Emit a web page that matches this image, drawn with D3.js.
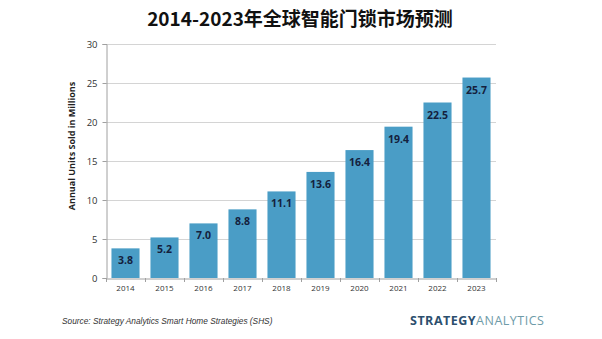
<!DOCTYPE html>
<html><head><meta charset="utf-8">
<script src="https://cdn.jsdelivr.net/npm/d3@7"></script>
<style>body{margin:0;background:#fff}svg{display:block}</style>
</head><body>
<svg id="c" width="602" height="339"></svg>
<script>
const years = ["2014","2015","2016","2017","2018","2019","2020","2021","2022","2023"];
const units = [3.8,5.2,7.0,8.8,11.1,13.6,16.4,19.4,22.5,25.7];
const yTicks = [0,5,10,15,20,25,30];
const titleText = "2014-2023年全球智能门锁市场预测";
const yTitle = "Annual Units Sold in Millions";
const sourceText = "Source: Strategy Analytics Smart Home Strategies (SHS)";

const svg = d3.select("#c");
const x = d3.scaleBand().domain(years).range([106,496]).paddingInner(0.28).paddingOuter(0.14);
const y = d3.scaleLinear().domain([0,30]).range([278,44]);

svg.append("text").attr("x",300).attr("y",26).attr("text-anchor","middle")
  .attr("font-family","'Noto Sans CJK SC','Noto Sans',sans-serif").attr("font-weight","bold")
  .attr("font-size",19).attr("fill","#111").text(titleText);

// gridlines
svg.append("g").selectAll("line").data(yTicks.filter(d=>d>0)).join("line")
  .attr("x1",106).attr("x2",496).attr("y1",d=>y(d)+0.5).attr("y2",d=>y(d)+0.5)
  .attr("stroke","#d4d4d4").attr("stroke-width",1);

// y axis
const ya = svg.append("g").attr("transform","translate(106.5,0)")
  .call(d3.axisLeft(y).tickValues(yTicks).tickSize(4).tickPadding(5));
ya.select(".domain").attr("stroke","#a0a0a0");
ya.selectAll(".tick line").attr("stroke","#a0a0a0");
ya.selectAll(".tick text").attr("font-family","'Open Sans',Arial,sans-serif").attr("font-size",9.5).attr("fill","#333");

// bars
svg.append("g").selectAll("rect").data(years).join("rect")
  .attr("x",d=>x(d)).attr("width",x.bandwidth())
  .attr("y",(d,i)=>y(units[i])).attr("height",(d,i)=>y(0)-y(units[i]))
  .attr("fill","#4a9dc6");

// value labels
svg.append("g").selectAll("text").data(years).join("text")
  .attr("x",d=>x(d)+x.bandwidth()/2).attr("y",(d,i)=>y(units[i])+16)
  .attr("text-anchor","middle").attr("font-family","'Open Sans',Arial,sans-serif")
  .attr("font-weight","bold").attr("font-size",10.5).attr("fill","#14213d")
  .text((d,i)=>units[i].toFixed(1));

// x axis
const xa = svg.append("g").attr("transform","translate(0,278.5)")
  .call(d3.axisBottom(x).tickSize(0).tickPadding(7));
xa.select(".domain").attr("stroke","#a0a0a0");
xa.selectAll(".tick text").attr("font-family","'Open Sans',Arial,sans-serif").attr("font-size",8).attr("fill","#333");
// tick marks at band boundaries
const step = x.step();
svg.append("g").selectAll("line").data(d3.range(years.length+1)).join("line")
  .attr("x1",d=>106.5+d*step).attr("x2",d=>106.5+d*step).attr("y1",278).attr("y2",282)
  .attr("stroke","#a0a0a0");

// y title
svg.append("text").attr("transform","translate(75,146) rotate(-90)").attr("text-anchor","middle")
  .attr("font-family","'Open Sans',Arial,sans-serif").attr("font-weight","bold").attr("font-size",9)
  .attr("fill","#222").text(yTitle);

// source
svg.append("text").attr("x",62).attr("y",324).attr("font-family","'Liberation Sans',Arial,sans-serif")
  .attr("font-style","italic").attr("font-size",8.3).attr("fill","#333").text(sourceText);

// logo
const logo = svg.append("text").attr("x",410).attr("y",325)
  .attr("font-family","'Open Sans',Arial,sans-serif").attr("font-size",12.5).attr("letter-spacing",0.5);
logo.append("tspan").attr("font-weight","bold").attr("fill","#2c4f6e").text("STRATEGY");
logo.append("tspan").attr("fill","#6e9ba8").text("ANALYTICS");
</script>
</body></html>
